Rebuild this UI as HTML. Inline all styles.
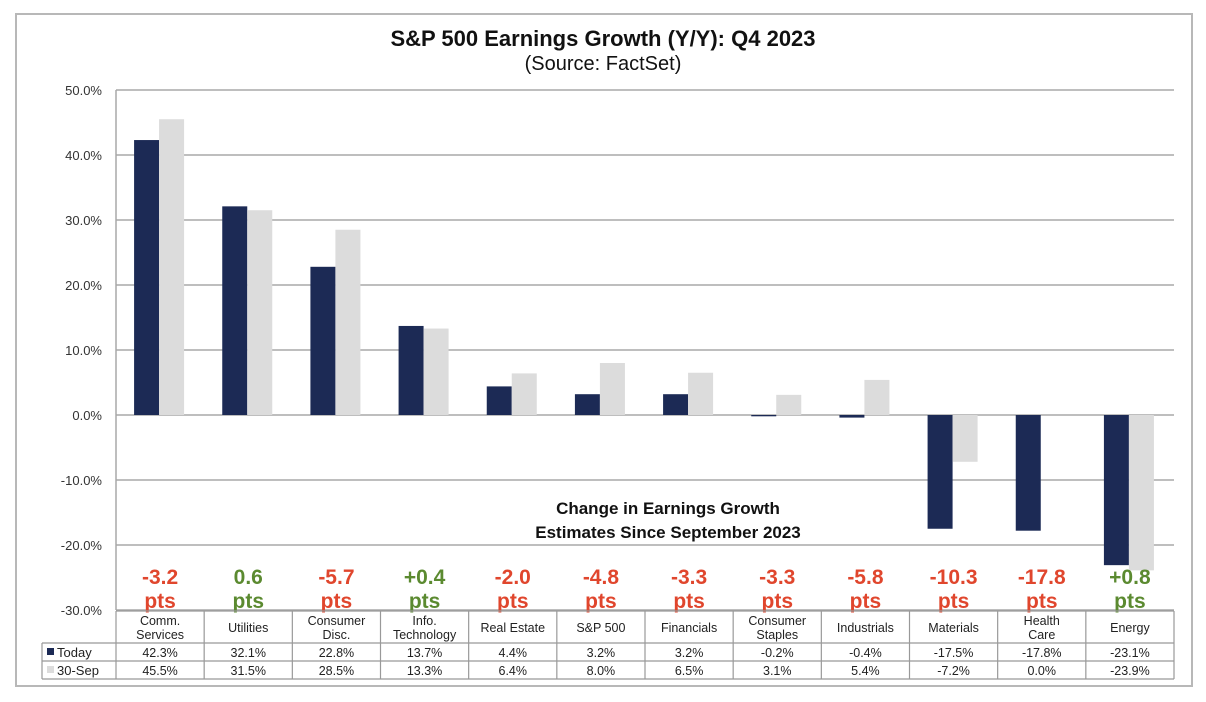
<!DOCTYPE html>
<html><head><meta charset="utf-8">
<style>
html,body{margin:0;padding:0;background:#fff;}
svg{display:block;font-family:"Liberation Sans",Arial,sans-serif;}
</style></head>
<body>
<svg id="chart" width="1206" height="702" viewBox="0 0 1206 702" xmlns="http://www.w3.org/2000/svg">
<rect x="16" y="14" width="1176" height="672" fill="#fff" stroke="#b8b8b8" stroke-width="2"/>
<text x="603" y="46" text-anchor="middle" font-size="22" font-weight="bold" fill="#111">S&amp;P 500 Earnings Growth (Y/Y): Q4 2023</text>
<text x="603" y="70" text-anchor="middle" font-size="20" fill="#111">(Source: FactSet)</text>
<g id="grid"></g>
<g id="bars"></g>
<text x="668" y="514" text-anchor="middle" font-size="17" font-weight="bold" fill="#111">Change in Earnings Growth</text>
<text x="668" y="538" text-anchor="middle" font-size="17" font-weight="bold" fill="#111">Estimates Since September 2023</text>
<g id="changes"></g>
<g id="table"></g>
</svg>
<script>
const categories=[["Comm.","Services"],["Utilities"],["Consumer","Disc."],["Info.","Technology"],["Real Estate"],["S&P 500"],["Financials"],["Consumer","Staples"],["Industrials"],["Materials"],["Health","Care"],["Energy"]];
const todayValues=[42.3,32.1,22.8,13.7,4.4,3.2,3.2,-0.2,-0.4,-17.5,-17.8,-23.1];
const sepValues=[45.5,31.5,28.5,13.3,6.4,8.0,6.5,3.1,5.4,-7.2,0.0,-23.9];
const changeLabels=["-3.2","0.6","-5.7","+0.4","-2.0","-4.8","-3.3","-3.3","-5.8","-10.3","-17.8","+0.8"];
const changePositive=[false,true,false,true,false,false,false,false,false,false,false,true];
const yTicks=[50,40,30,20,10,0,-10,-20,-30];

const NS="http://www.w3.org/2000/svg";
const L=116,R=1174,T=90,B=610,YMAX=50,YMIN=-30;
const cw=(R-L)/categories.length;
const y=v=>T+(YMAX-v)/(YMAX-YMIN)*(B-T);
const xc=i=>L+cw*(i+0.5);
function mk(tag,attrs,parent,text){const e=document.createElementNS(NS,tag);for(const k in attrs)e.setAttribute(k,attrs[k]);if(text!==undefined)e.textContent=text;parent.appendChild(e);return e;}
const grid=document.getElementById('grid');
yTicks.forEach(t=>{
  const ln=mk('line',{x1:L,x2:R,y1:y(t),y2:y(t),stroke:'#a8a8a8','stroke-width':1.5},grid);
  
  
  const tx=mk('text',{x:102,y:y(t)+5,'text-anchor':'end','font-size':13,fill:'#333'},grid,t.toFixed(1)+'%');
  
  
});
const ax=mk('line',{x1:L,x2:L,y1:T,y2:B,stroke:'#a8a8a8','stroke-width':1.5},grid);


const bars=document.getElementById('bars');
const bw=25;
categories.forEach((c,i)=>{
  const v1=todayValues[i],v2=sepValues[i];
  const b1=mk('rect',{x:xc(i)-26,y:Math.min(y(v1),y(0)),width:bw,height:Math.abs(y(v1)-y(0)),fill:'#1c2a55'},bars);
  
  
  const b2=mk('rect',{x:xc(i)-1,y:Math.min(y(v2),y(0)),width:bw,height:Math.abs(y(v2)-y(0)),fill:'#dcdcdc'},bars);
  
  
});
const ch=document.getElementById('changes');
changeLabels.forEach((s,i)=>{
  const col=changePositive[i]?'#5b8a30':'#e0462d';
  const a=mk('text',{x:xc(i),y:584,'text-anchor':'middle','font-size':21,'font-weight':'bold',fill:col},ch,s);
  
  
  const b=mk('text',{x:xc(i),y:608,'text-anchor':'middle','font-size':21,'font-weight':'bold',fill:col},ch,'pts');
  
  
});
const tb=document.getElementById('table');
const tTop=611,r1=643,r2=661,r3=679,LL=42;
const st={stroke:'#999','stroke-width':1.2};
[[L,R,tTop],[LL,R,r1],[LL,R,r2],[LL,R,r3]].forEach(([a,b,yy])=>{const l=mk('line',Object.assign({x1:a,x2:b,y1:yy,y2:yy},st),tb);});
for(let i=0;i<=categories.length;i++){const l=mk('line',Object.assign({x1:L+cw*i,x2:L+cw*i,y1:tTop,y2:r3},st),tb);}
const lv=mk('line',Object.assign({x1:LL,x2:LL,y1:r1,y2:r3},st),tb);


const ltA=mk('rect',{x:47,y:648,width:7,height:7,fill:'#1c2a55'},tb);


const ltB=mk('rect',{x:47,y:666,width:7,height:7,fill:'#dcdcdc'},tb);


const lA=mk('text',{x:57,y:657,'font-size':13,fill:'#222'},tb,'Today');


const lB=mk('text',{x:57,y:675,'font-size':13,fill:'#222'},tb,'30-Sep');


categories.forEach((c,i)=>{
  if(c.length===1){
    const t=mk('text',{x:xc(i),y:632,'text-anchor':'middle','font-size':12.5,fill:'#222'},tb,c[0]);
    
    
  } else {
    c.forEach((s,k)=>{const t=mk('text',{x:xc(i),y:625+k*14,'text-anchor':'middle','font-size':12.5,fill:'#222'},tb,s);
    
    });
  }
  const a=mk('text',{x:xc(i),y:657,'text-anchor':'middle','font-size':12.5,fill:'#222'},tb,todayValues[i].toFixed(1)+'%');
  
  
  const b=mk('text',{x:xc(i),y:675,'text-anchor':'middle','font-size':12.5,fill:'#222'},tb,sepValues[i].toFixed(1)+'%');
  
  
});
</script>
</body></html>
